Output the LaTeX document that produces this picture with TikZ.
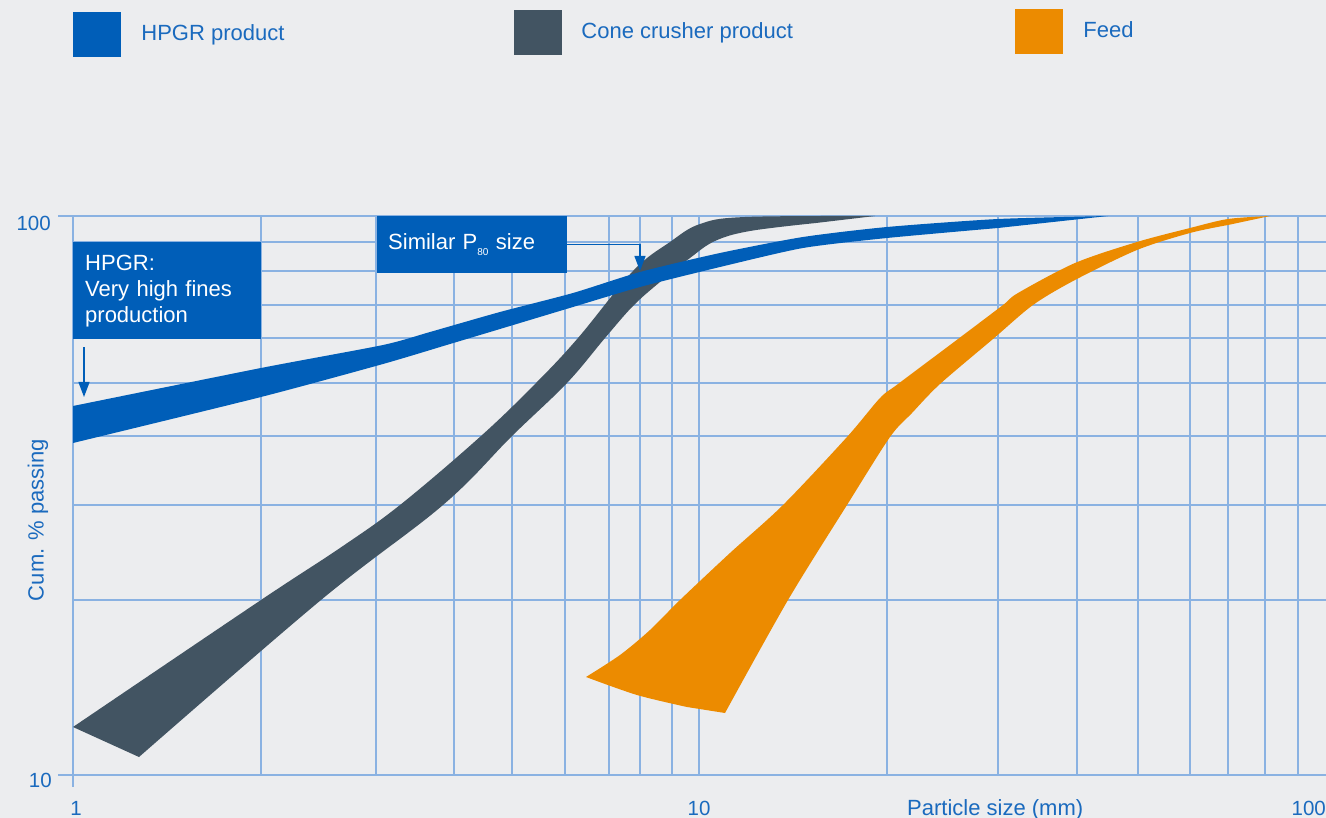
\documentclass[tikz,border=0pt]{standalone}
\usepackage{fontspec}
\setmainfont{Liberation Sans}
\usetikzlibrary{positioning}
\usetikzlibrary{arrows.meta}
\definecolor{bgc}{RGB}{236,237,239}
\definecolor{gridc}{RGB}{138,178,226}
\definecolor{hpgrc}{RGB}{0,94,184}
\definecolor{conec}{RGB}{66,84,98}
\definecolor{feedc}{RGB}{236,139,0}
\definecolor{txtc}{RGB}{26,106,190}
\tikzset{
	gridline/.style={draw=gridc, line width=1.5pt},
	legsq/.style={rectangle, minimum width=48pt, minimum height=45pt, inner sep=0pt},
	legtext/.style={font=\fontsize{22}{26}\selectfont, text=txtc, inner sep=0pt, text height=16pt, text depth=4.6pt},
	notebox/.style={rectangle, fill=hpgrc, text=white, font=\fontsize{22}{26}\selectfont, align=left, inner xsep=12pt, inner ysep=12.5pt},
	ticklab/.style={font=\fontsize{20.5}{24}\selectfont, text=txtc, inner sep=0pt},
	axlab/.style={font=\fontsize{22}{26}\selectfont, text=txtc, inner sep=0pt},
	arrow/.style={draw=hpgrc, line width=1.3pt, -{Triangle[width=11pt,length=15pt]}},
}

\begin{document}
\begin{tikzpicture}[x=1pt,y=-1pt]
\fill[bgc] (0,0) rectangle (1326,818);
\useasboundingbox (0,0) rectangle (1326,818);

% grid (log scales, 1..100 across, 10..100 up)
\foreach \gx in {73,261,376,454,512,565,609,640,672,699,887,998,1077,1138,1190,1228,1265,1298} {
	\draw[gridline] (\gx,216) -- (\gx,775);
}
\foreach \gy in {216,242,271,305,338,383,436,505,600,775} {
	\draw[gridline] (73,\gy) -- (1326,\gy);
}
\draw[gridline] (58,216) -- (73,216);
\draw[gridline] (58,775) -- (73,775);
\draw[gridline] (73,775) -- (73,787);

% feed
\fill[feedc] plot[smooth, tension=0.5] coordinates {(586,677) (620,655) (650,630) (680,600) (730,553) (783,505) (847,437) (880,398) (898,384) (958,339) (1003,305) (1018,293) (1075,263) (1137,242) (1190,228) (1228,219) (1270,216)}
	-- plot[smooth, tension=0.5] coordinates {(1228,225) (1190,233) (1137,250) (1075,280) (1033,305) (993,339) (940,384) (912,413) (890,437) (847,505) (788,600) (725,713)}
	-- plot[smooth, tension=0.5] coordinates {(687,707) (637,695) (586,677)} -- cycle;

% cone crusher
\fill[conec] plot[smooth, tension=0.6] coordinates {(73,727) (261,600) (340,548) (400,505) (481,436) (536,383) (578,338) (633,271) (670,242) (700,224) (745,217) (875,216)}
	-- plot[smooth, tension=0.6] coordinates {(816,223) (750,231) (715,241) (690,258) (660,282) (633,306) (605,338) (567,383) (512,436) (443,505) (321,600) (139,757)} -- cycle;

% hpgr
\fill[hpgrc] plot[smooth, tension=0.4] coordinates {(73,406) (261,368) (383,345) (430,332) (500,312) (573,293) (640,272) (720,253) (803,237) (887,227) (998,219) (1108,216)}
	-- plot[smooth, tension=0.4] coordinates {(998,228) (887,238) (803,248) (720,267) (640,287) (573,307) (500,329) (450,344) (383,364) (261,397) (73,443)} -- cycle;

% notes
\node[notebox, text width=164pt, anchor=north west] (hpgrnote) at (73,242) {HPGR:\\Very high fines\\production};
\node[notebox, text width=168pt, inner xsep=11pt, minimum height=57pt, anchor=north west] (p80note) at (377,216) {Similar P\raisebox{-6pt}{\fontsize{10}{12}\selectfont 80} size};

\coordinate (hpgrtip) at (84,397);
\coordinate (p80tip) at (640,271);
\draw[arrow] ([xshift=11pt,yshift=-8pt]hpgrnote.south west) -- (hpgrtip);
\draw[arrow] (p80note.east) -| (p80tip);

% legend
\node[legsq, fill=hpgrc] (lg1) at (97,34.5) {};
\node[legtext, right=20pt of lg1] (lt1) {HPGR product};
\node[legsq, fill=conec] (lg2) at (538,32.5) {};
\node[legtext, right=19pt of lg2] (lt2) {Cone crusher product};
\node[legsq, fill=feedc] (lg3) at (1039,31.5) {};
\node[legtext, right=20pt of lg3] (lt3) {Feed};

% axes
\node[ticklab, anchor=base east] (y100) at (51,231) {100};
\node[ticklab, anchor=base east] (y10) at (52,787) {10};
\node[ticklab, anchor=base] (x1) at (76,815) {1};
\node[ticklab, anchor=base] (x10) at (699,815) {10};
\node[ticklab, anchor=base east] (x100) at (1326,815) {100};
\node[axlab, anchor=base west] (xlab) at (907,815) {Particle size (mm)};
\node[axlab, rotate=90, anchor=base] (ylab) at (43.5,520) {Cum. \% passing};
\end{tikzpicture}
\end{document}
